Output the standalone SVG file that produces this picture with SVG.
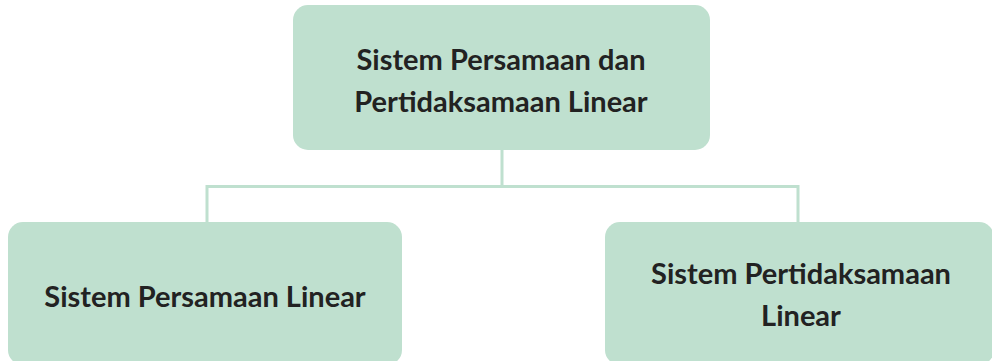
<svg xmlns="http://www.w3.org/2000/svg" width="992" height="361" viewBox="0 0 992 361">
<style>
.box{fill:#bfe0cf;}
.lbl{font-family:Lato,"Liberation Sans",sans-serif;font-weight:bold;font-size:29px;fill:#222222;text-anchor:middle;}
.conn{fill:none;stroke:#bfe0cf;stroke-width:3;}
</style>
<rect width="992" height="361" fill="#ffffff"/>
<g id="connectors">
<path class="conn" d="M502 150 V186.5 M207 222 V186.5 H798 V222"/>
</g>
<g id="root">
<rect class="box" x="293" y="5" width="417" height="145" rx="15"/>
<text class="lbl" x="501" y="70">Sistem Persamaan dan</text>
<text class="lbl" x="501" y="112">Pertidaksamaan Linear</text>
</g>
<g id="left">
<rect class="box" x="8" y="222" width="394" height="143" rx="15"/>
<text class="lbl" x="205" y="307">Sistem Persamaan Linear</text>
</g>
<g id="right">
<rect class="box" x="605" y="222" width="389" height="143" rx="15"/>
<text class="lbl" x="801" y="284">Sistem Pertidaksamaan</text>
<text class="lbl" x="801" y="326">Linear</text>
</g>
</svg>
